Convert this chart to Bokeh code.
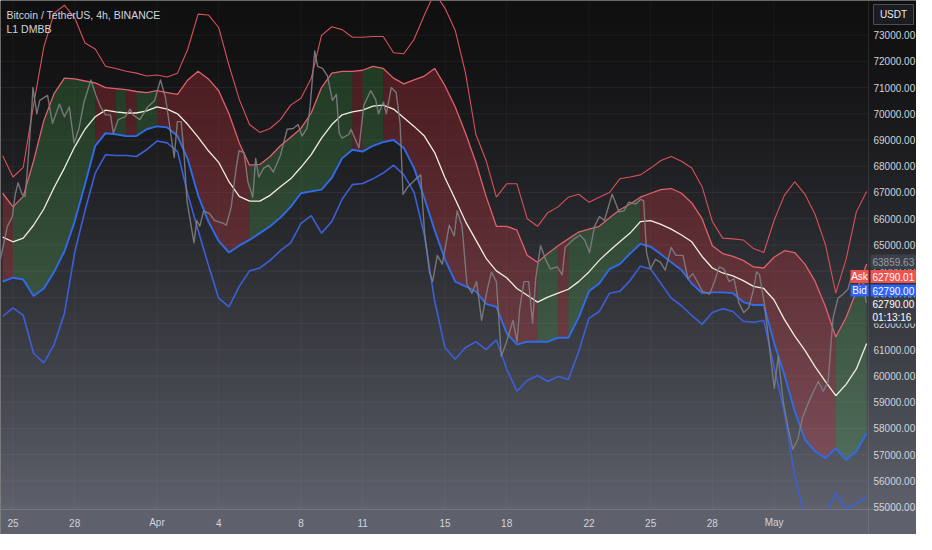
import numpy as np
from bokeh.plotting import figure
from bokeh.models import Range1d
from bokeh.core.properties import value
from bokeh.embed import file_html
from bokeh.resources import INLINE

# ---------------- data (BTC/USDT 4h, L1 DMBB) ----------------
# band samples every 12h, time in days since 25 Mar 00:00
band_t = [i * 0.5 - 0.5 for i in range(85)]

upper_outer = [68400, 67590, 67960, 70330, 72550, 73840, 74140, 73660, 72700, 72470,
               71810, 71730, 71620, 71550, 71440, 71480, 71400, 71550, 72470, 73800,
               73770, 73290, 71850, 70550, 69590, 69290, 69440, 69780, 70330, 70590,
               71360, 72990, 73320, 73210, 72920, 72920, 72950, 72950, 72330, 72290,
               72840, 73770, 74620, 74030, 73180, 71550, 69220, 68220, 66820, 67330,
               67330, 66000, 65710, 66230, 66450, 66820, 66930, 66630, 66820, 67000,
               67520, 67590, 67670, 67930, 68220, 68370, 68190, 67930, 67220, 65890,
               65260, 65230, 65190, 64860, 64710, 65930, 66890, 67410, 66930, 66150,
               65000, 63160, 64450, 66260, 67040]

upper_inner = [66970, 66450, 66850, 68190, 69740, 70770, 71360, 71330, 71250, 71180,
               71000, 70960, 70920, 70850, 70810, 70880, 70810, 70740, 71290, 71620,
               71330, 70880, 70000, 68890, 68040, 68070, 68370, 68780, 69110, 69440,
               70030, 71000, 71550, 71620, 71620, 71660, 71810, 71730, 71360, 71140,
               71290, 71440, 71730, 71070, 70260, 69260, 68150, 66850, 65710, 65710,
               65560, 64600, 64340, 64670, 64970, 65230, 65490, 65600, 65710, 66040,
               66340, 66560, 66820, 66970, 67110, 67150, 66970, 66600, 66000, 64970,
               64670, 64560, 64410, 64160, 64120, 64530, 64780, 64710, 64270, 63600,
               62640, 61490, 62230, 63230, 64270]

middle = [65300, 65120, 65260, 65750, 66370, 67190, 67930, 68740, 69410, 69890,
          70140, 70070, 70030, 70030, 70110, 70260, 70180, 70000, 69590, 69110,
          68590, 68150, 67410, 66850, 66670, 66670, 66890, 67220, 67520, 67960,
          68440, 69070, 69590, 69960, 70070, 70140, 70290, 70330, 70180, 69850,
          69520, 69150, 68520, 67560, 66740, 65890, 65190, 64490, 64010, 63750,
          63340, 63080, 62820, 63010, 63160, 63310, 63600, 63970, 64410, 64780,
          65120, 65450, 65890, 65930, 65780, 65600, 65380, 65120, 64560, 64120,
          63930, 63820, 63640, 63420, 63340, 62900, 62160, 61530, 60980, 60350,
          59790, 59250, 59680, 60270, 61240]

lower_inner = [63600, 63750, 63680, 63050, 63340, 63970, 64750, 65890, 67300, 68780,
               69260, 69220, 69150, 69150, 69410, 69520, 69480, 69150, 68260, 66890,
               65890, 65150, 64710, 64970, 65190, 65450, 65710, 66040, 66450, 66970,
               67040, 67110, 67560, 68300, 68630, 68560, 68780, 68920, 69000, 68700,
               67930, 66780, 65560, 64450, 63600, 63420, 63230, 62750, 62640, 61640,
               61200, 61310, 61310, 61310, 61460, 61460, 62230, 63230, 63530, 64080,
               64270, 64670, 65040, 64930, 64640, 64340, 64040, 63530, 63160, 63190,
               63190, 63160, 62820, 62710, 62710, 61270, 60050, 58680, 57580, 57130,
               56870, 57240, 56800, 57130, 57830]

lower_outer = [62270, 62600, 62310, 60870, 60500, 61200, 62380, 64710, 66300, 67740,
               68440, 68410, 68410, 68370, 68630, 68960, 68890, 68560, 66930, 65560,
               64230, 62970, 62640, 63420, 64010, 64120, 64410, 64780, 65080, 65820,
               66120, 65450, 65890, 66740, 67300, 67340, 67520, 67740, 68040, 67670,
               67000, 65380, 62860, 61090, 60640, 61090, 61310, 61010, 61380, 60270,
               59420, 59830, 60020, 59790, 59980, 59870, 60940, 62200, 62460, 63160,
               63230, 63640, 64190, 64080, 63530, 62970, 62680, 62310, 61970, 62420,
               62570, 62460, 62090, 62050, 62120, 60350, 58610, 56210, 54540, 54170,
               54730, 55540, 54910, 55170, 55390]

# +1 = bullish (green fill), -1 = bearish (red fill)
trend = [-1, 1, 1, 1, 1, 1, 1, 1, 1, -1, -1, 1, -1, 1, 1, -1, -1, -1, -1, -1,
         -1, -1, -1, -1, 1, 1, 1, 1, 1, 1, 1, 1, 1, 1, -1, 1, 1, -1, -1, -1,
         -1, -1, -1, -1, -1, -1, -1, -1, -1, -1, -1, -1, 1, 1, -1, 1, 1, 1, 1, 1,
         1, 1, -1, -1, -1, -1, -1, -1, -1, -1, -1, -1, -1, -1, -1, -1, -1, -1, -1, -1,
         -1, 1, 1, 1, 1]

close_t = [-0.61, -0.27, -0.03, 0.11, 0.25, 0.44, 0.59, 0.73, 0.92, 0.97, 1.16, 1.30, 1.68,
           1.92, 2.26, 2.50, 2.74, 2.97, 3.21, 3.45, 3.79, 4.02, 4.26, 4.50, 4.74, 4.88,
           5.12, 5.46, 5.69, 5.84, 6.17, 6.55, 6.89, 7.17, 7.41, 7.60, 7.84, 7.99, 8.18,
           8.32, 8.46, 8.80, 8.94, 9.08, 9.27, 9.56, 9.80, 10.23, 10.37, 10.61, 10.85,
           10.99, 11.23, 11.42, 11.66, 11.80, 11.95, 12.19, 12.42, 12.66, 13.00, 13.33,
           13.62, 13.86, 14.05, 14.29, 14.43, 14.67, 14.81, 15.05, 15.29, 15.53, 15.72,
           15.86, 16.00, 16.34, 16.43, 16.82, 17.06, 17.39, 17.63, 17.77, 18.01, 18.15,
           18.39, 18.63, 18.82, 18.96, 19.20, 19.54, 19.82, 20.01, 20.25, 20.40, 20.63,
           20.87, 21.21, 21.45, 21.59, 21.83, 22.07, 22.31, 22.54, 22.78, 23.02, 23.26,
           23.50, 23.74, 23.98, 24.31, 24.50, 24.64, 24.84, 25.07, 25.26, 25.41, 25.65,
           25.89, 26.12, 26.46, 26.70, 26.84, 27.22, 27.56, 27.79, 28.03, 28.27, 28.51,
           28.75, 29.13, 29.46, 29.70, 29.94, 30.28, 30.52, 30.66, 30.80, 30.99, 31.23,
           31.47, 31.71, 32.00, 32.23, 32.57, 32.81, 33.05, 33.19, 33.52, 33.86, 34.10,
           34.33, 34.57, 34.81, 35.05, 35.29, 35.53, 35.77, 36.00, 36.15, 36.29, 36.53,
           36.72, 36.86, 37.01, 37.20, 37.44, 37.67, 37.91, 38.15, 38.39, 38.63, 38.92,
           39.15, 39.39, 39.63, 39.78, 39.87, 40.11, 40.35, 40.59, 40.83, 41.06, 41.30,
           41.49]

close = [64450, 65710, 66080, 66930, 67370, 66930, 66850, 68150, 70260, 71000, 70000, 70510,
         70700, 69630, 70370, 69890, 70260, 68890, 69440, 70440, 71290, 70740, 70260, 69960,
         69960, 69260, 69780, 69890, 70180, 69960, 69780, 70260, 70510, 71290, 70630, 69630,
         68330, 69700, 69700, 68410, 66670, 65080, 65930, 65710, 66300, 66190, 65930, 65820,
         65750, 66450, 67930, 68590, 68520, 67410, 66820, 68300, 67590, 67930, 68040, 67780,
         68410, 69410, 69440, 69590, 69150, 69440, 70140, 72400, 71810, 71730, 71440, 70510,
         70740, 69260, 69070, 69220, 69410, 68700, 70330, 70880, 70550, 70000, 70440, 70000,
         71000, 70810, 69630, 66930, 67220, 67480, 67670, 65450, 63970, 63600, 64600, 64270,
         65750, 65340, 66300, 65710, 63490, 63160, 63600, 62120, 63160, 63970, 63600, 60750,
         61270, 62120, 61310, 62600, 63600, 63600, 62010, 63710, 64970, 64450, 64080, 64160,
         63860, 64900, 65190, 65380, 65190, 64710, 65710, 66080, 65930, 66930, 66260, 66300,
         66630, 66560, 66740, 66670, 64710, 64080, 64450, 64340, 64040, 64900, 64600, 64600,
         63710, 63900, 63710, 63230, 63120, 63600, 64160, 64080, 63600, 63710, 62790, 62420,
         62600, 63310, 63970, 63860, 62750, 61490, 60530, 59530, 60750, 59050, 58060, 57210,
         57580, 58430, 58910, 59420, 59790, 59420, 59790, 61380, 62230, 62970, 63120, 63310,
         63970, 63860, 63600, 62790]

price_ticks = [55000, 56000, 57000, 58000, 59000, 60000, 61000, 62000, 63000,
               64000, 65000, 66000, 67000, 68000, 69000, 70000, 71000, 72000, 73000]
date_ticks = [0, 3, 7, 10, 14, 17, 21, 24, 28, 31, 34, 37]
date_labels = ["25", "28", "Apr", "4", "8", "11", "15", "18", "22", "25", "28", "May"]

title = "Bitcoin / TetherUS, 4h, BINANCE"
subtitle = "L1 DMBB"
last_close_label = "63859.63"
ask_price, bid_price = "62790.01", "62790.00"
countdown = "01:13:16"

# ---------------- layout geometry ----------------
W, H = 916, 534          # figure
PW, PH = 868, 509        # price pane (rest is axis strips)
D0, D1 = -0.606, 41.59   # visible time span (days)
P_TOP, P_BOT = 74320.0, 54911.0
sx = PW / (D1 - D0)
sy = PH / (P_TOP - P_BOT)


def X(px):
    return D0 + px / sx


def Y(py):
    return P_TOP - py / sy


FONT = value("Liberation Sans")

p = figure(width=W, height=H, x_range=Range1d(D0, X(W)), y_range=Range1d(Y(H), P_TOP),
           min_border=0, toolbar_location=None, output_backend="svg",
           x_axis_location=None, y_axis_location=None)
p.grid.visible = False
p.outline_line_color = None
p.background_fill_color = "#131313"
p.border_fill_color = "#131313"

# background gradient (dark top -> slate bottom)
N = 256
img = np.zeros((N, 1), dtype=np.uint32)
view = img.view(dtype=np.uint8).reshape((N, 1, 4))
top_c = np.array([16, 16, 17], dtype=float)
bot_c = np.array([94, 97, 108], dtype=float)
for i in range(N):
    f = (N - 1 - i) / (N - 1)  # 0 at top, 1 at bottom
    c = top_c + (bot_c - top_c) * f ** 1.45
    view[i, 0, 0:3] = c.astype(np.uint8)
    view[i, 0, 3] = 255
p.image_rgba(image=[img], x=D0, y=P_BOT, dw=X(W) - D0, dh=P_TOP - P_BOT, level="image")

# grid lines
p.segment(x0=[D0] * len(price_ticks), x1=[D1] * len(price_ticks), y0=price_ticks, y1=price_ticks,
          line_color="white", line_alpha=0.055, line_width=1, level="underlay")
p.segment(x0=date_ticks, x1=date_ticks, y0=[P_BOT] * len(date_ticks), y1=[P_TOP] * len(date_ticks),
          line_color="white", line_alpha=0.04, line_width=1, level="underlay")

# trend-coloured fill between inner bands
t_arr = np.array(band_t)
ui = np.array(upper_inner)
li = np.array(lower_inner)
i = 0
n = len(trend)
while i < n - 1:
    j = i
    while j + 1 < n - 1 and trend[j + 1] == trend[i]:
        j += 1
    sl = slice(i, j + 2)
    col = "#4caf50" if trend[i] > 0 else "#f23645"
    p.varea(x=t_arr[sl], y1=li[sl], y2=ui[sl], fill_color=col, fill_alpha=0.25)
    i = j + 1

# band lines
p.line(band_t, upper_outer, line_color="#d9505c", line_width=1.1)
p.line(band_t, upper_inner, line_color="#e0606b", line_width=1.3)
p.line(band_t, lower_outer, line_color="#3c5fd8", line_width=1.6)
p.line(band_t, lower_inner, line_color="#2f6cec", line_width=1.9)
p.line(band_t, middle, line_color="#f2eedc", line_width=1.3)
p.line(close_t, close, line_color="#7e7e81", line_alpha=0.9, line_width=1.4, line_join="round")

# bottom time-axis strip and separators
p.quad(left=[D0], right=[X(W)], bottom=[Y(H)], top=[P_BOT], fill_color="#5e616c", line_color=None)
p.segment(x0=[D0], x1=[X(W)], y0=[P_BOT], y1=[P_BOT], line_color="#747782", line_width=1)
p.segment(x0=[D1], x1=[D1], y0=[Y(H)], y1=[P_TOP], line_color="white", line_alpha=0.09, line_width=1)

# price-axis labels
p.text(x=[X(PW + 5)] * len(price_ticks), y=price_ticks, text=[f"{v:.2f}" for v in price_ticks],
       text_font=FONT, text_font_size="10px", text_color="#d1d4dc",
       text_baseline="middle", text_align="left")
# time-axis labels
p.text(x=date_ticks, y=[Y(PH + 13)] * len(date_ticks), text=date_labels,
       text_font=FONT, text_font_size="10px", text_color="#d1d4dc",
       text_baseline="middle", text_align="center")

# legend texts
p.text(x=[X(6), X(6)], y=[Y(14.5), Y(28)], text=[title, subtitle], text_font=FONT,
       text_font_size="10.5px", text_color="#d1d4dc", text_baseline="middle", text_align="left")

# currency box
p.quad(left=[X(873)], right=[X(913)], top=[Y(4)], bottom=[Y(24)], fill_color="#1b1c20",
       line_color="#4a4d57", line_width=1)
p.text(x=[X(893)], y=[Y(14)], text=["USDT"], text_font=FONT, text_font_size="10px",
       text_color="#e8e9ec", text_baseline="middle", text_align="center")

# price tags on the right
tag_l = [X(870)] * 4
tag_r = [X(W)] * 4
tag_top = [Y(254), Y(269.5), Y(284), Y(297)]
tag_bot = [Y(268.5), Y(282.5), Y(296), Y(323)]
tag_fill = ["#3d4049", "#ef5350", "#2962ff", "#3a3d46"]
p.quad(left=tag_l, right=tag_r, top=tag_top, bottom=tag_bot, fill_color=tag_fill, line_color=None)
p.quad(left=[X(850), X(850)], right=[X(868), X(868)], top=[Y(269.5), Y(284)],
       bottom=[Y(282.5), Y(296)], fill_color=["#ef5350", "#2962ff"], line_color=None)
p.text(x=[X(859), X(859)], y=[Y(276), Y(290)], text=["Ask", "Bid"], text_font=FONT,
       text_font_size="10px", text_color="white", text_baseline="middle", text_align="center")
p.text(x=[X(872)] * 5, y=[Y(261.5), Y(276), Y(290), Y(303.5), Y(316.5)],
       text=[last_close_label, ask_price, bid_price, bid_price, countdown],
       text_font=FONT, text_font_size="10px",
       text_color=["#9a9ca3", "white", "white", "white", "white"],
       text_baseline="middle", text_align="left")

open("out.html", "w").write(file_html(p, INLINE))
